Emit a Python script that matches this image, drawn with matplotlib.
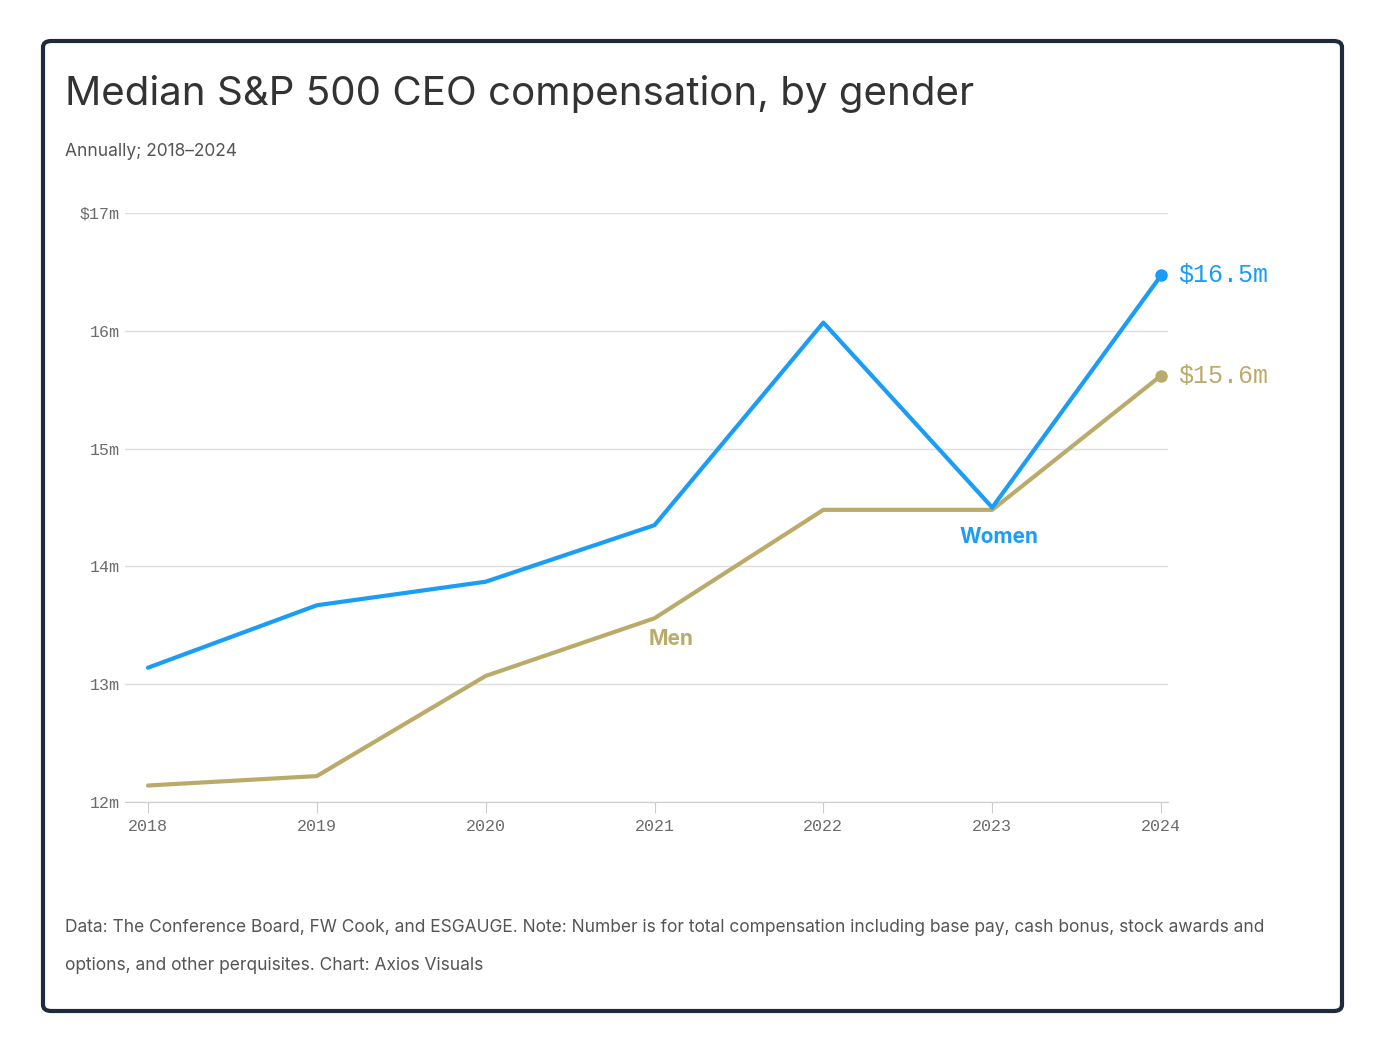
import matplotlib
matplotlib.use("Agg")
import matplotlib.pyplot as plt
from matplotlib.patches import FancyBboxPatch

# data (in $m)
years = [2018, 2019, 2020, 2021, 2022, 2023, 2024]
women = [13.14, 13.67, 13.87, 14.35, 16.07, 14.50, 16.47]
men = [12.14, 12.22, 13.07, 13.56, 14.48, 14.48, 15.62]
y_ticks = [12, 13, 14, 15, 16, 17]
y_labels = ["12m", "13m", "14m", "15m", "16m", "$17m"]

BLUE = "#1a9cf7"
GOLD = "#bbab6a"
TXT = "#333333"
GREY = "#6b6b6b"
MONO = "Liberation Mono"

W, H = 1383, 1053
fig = plt.figure(figsize=(W / 100, H / 100), dpi=100)

frame = FancyBboxPatch((43 / W, 1 - 1011 / H), 1299 / W, 970 / H,
                       boxstyle="round,pad=0,rounding_size=0.006",
                       transform=fig.transFigure, fill=False,
                       edgecolor="#1f2a3c", linewidth=3)
fig.patches.append(frame)

fig.text(65 / W, 1 - 94 / H, "Median S&P 500 CEO compensation, by gender",
         fontsize=29, color=TXT, va="center", family="Inter")
fig.text(65 / W, 1 - 151 / H, "Annually; 2018–2024", fontsize=12.5,
         color="#555555", va="center", family="Inter")
fig.text(65 / W, 1 - 928 / H,
         "Data: The Conference Board, FW Cook, and ESGAUGE. Note: Number is for total compensation including base pay, cash bonus, stock awards and",
         fontsize=12.5, color="#555555", va="center", family="Inter")
fig.text(65 / W, 1 - 966 / H,
         "options, and other perquisites. Chart: Axios Visuals",
         fontsize=12.5, color="#555555", va="center", family="Inter")

ax = fig.add_axes([125 / W, 1 - 802 / H, 1043 / W, 589 / H])
ax.set_xlim(2017.864, 2024.041)
ax.set_ylim(12, 17)
for s in ["top", "right", "left"]:
    ax.spines[s].set_visible(False)
ax.spines["bottom"].set_color("#cccccc")
ax.set_yticks(y_ticks)
ax.set_yticklabels(y_labels, family=MONO, fontsize=12, color=GREY)
ax.tick_params(axis="y", length=0, pad=4)
ax.set_xticks(years)
ax.set_xticklabels([str(y) for y in years], family=MONO, fontsize=12, color=GREY)
ax.tick_params(axis="x", length=8, color="#cccccc", pad=4)
ax.grid(axis="y", color="#dddddd", linewidth=1)
ax.set_axisbelow(True)

ax.plot(years, men, color=GOLD, linewidth=3, solid_capstyle="round", clip_on=False)
ax.plot(years, women, color=BLUE, linewidth=3, solid_capstyle="round", clip_on=False)
ax.plot(years[-1], women[-1], "o", color=BLUE, markersize=8, clip_on=False)
ax.plot(years[-1], men[-1], "o", color=GOLD, markersize=8, clip_on=False)

ax.text(2024.1, women[-1], f"${women[-1]:.1f}m", color=BLUE, family=MONO,
        fontsize=18, va="center", clip_on=False)
ax.text(2024.1, men[-1], f"${men[-1]:.1f}m", color=GOLD, family=MONO,
        fontsize=18, va="center", clip_on=False)
ax.text(2023.04, 14.25, "Women", color=BLUE, fontsize=15, fontweight="bold",
        ha="center", va="center", family="Inter")
ax.text(2021.1, 13.38, "Men", color=GOLD, fontsize=15, fontweight="bold",
        ha="center", va="center", family="Inter")

fig.savefig("out.png", dpi=100)
